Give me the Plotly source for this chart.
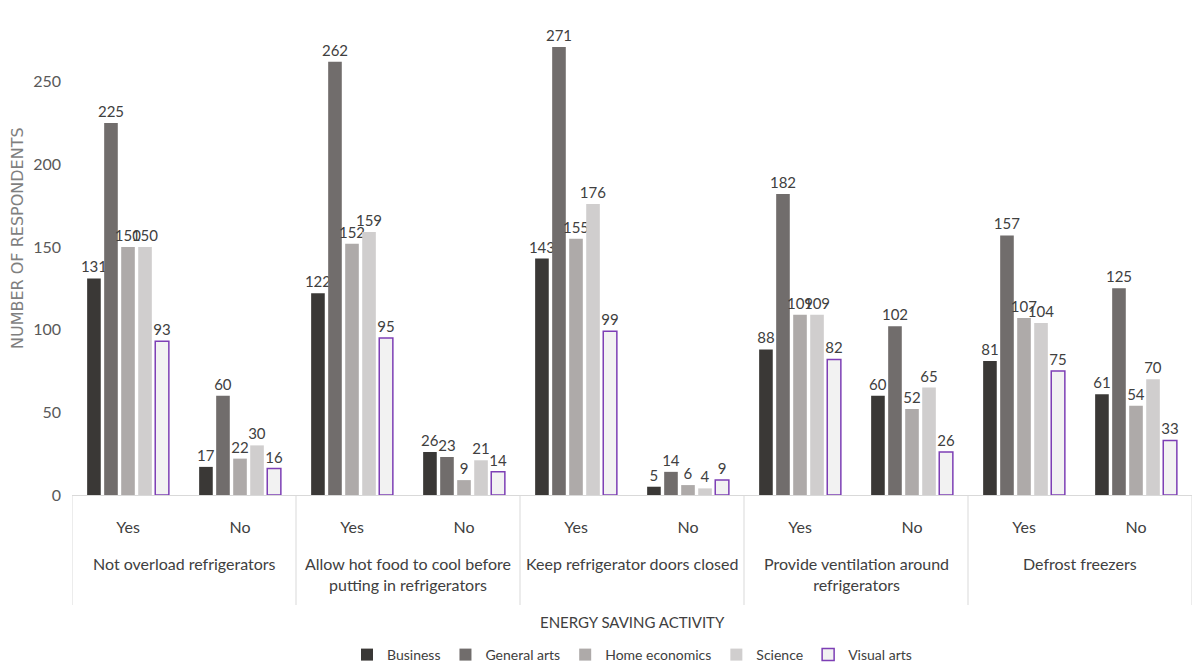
import plotly.graph_objects as go

activities = [
    "Not overload refrigerators",
    "Allow hot food to cool before<br>putting in refrigerators",
    "Keep refrigerator doors closed",
    "Provide ventilation around<br>refrigerators",
    "Defrost freezers",
]
answers = ["Yes", "No"]

business = [131, 17, 122, 26, 143, 5, 88, 60, 81, 61]
general_arts = [225, 60, 262, 23, 271, 14, 182, 102, 157, 125]
home_economics = [150, 22, 152, 9, 155, 6, 109, 52, 107, 54]
science = [150, 30, 159, 21, 176, 4, 109, 65, 104, 70]
visual_arts = [93, 16, 95, 14, 99, 9, 82, 26, 75, 33]

series = [
    ("Business", business, "#3a3836", None),
    ("General arts", general_arts, "#716d6c", None),
    ("Home economics", home_economics, "#aeaaa9", None),
    ("Science", science, "#d0cece", None),
    ("Visual arts", visual_arts, "#f2f2f2", "#7d3fb5"),
]

# one category per (activity, answer) pair; ticks show only the answer
cat_keys = [f"{a}|{ans}" for a in activities for ans in answers]
cat_ticks = [ans for _ in activities for ans in answers]

FONT = "Lato, Open Sans, sans-serif"
TXT = "#404040"
GRID = "#d9d9d9"

fig = go.Figure()
for name, vals, fill, edge in series:
    fig.add_trace(go.Bar(
        name=name,
        x=cat_keys,
        y=vals,
        text=vals,
        textposition="outside",
        constraintext="none",
        cliponaxis=False,
        textfont=dict(family=FONT, size=15, color=TXT),
        marker=dict(
            color=fill,
            line=dict(color=edge if edge else fill, width=1.5 if edge else 0),
        ),
    ))

# plot area: bottom at 495 px, height 463 px
PH = 463.0

def py(px_below):
    """paper y for a position px_below pixels under the x axis"""
    return -px_below / PH

# group labels and dividers below the answer ticks
n_ans = len(answers)
for i, act in enumerate(activities):
    fig.add_annotation(
        x=i * n_ans + (n_ans - 1) / 2, xref="x",
        y=py(57), yref="paper", yanchor="top",
        text=act, showarrow=False, align="center",
        font=dict(family=FONT, size=16, color=TXT),
    )
for i in range(len(activities) + 1):
    xd = i * n_ans - 0.5
    fig.add_shape(
        type="line", xref="x", yref="paper",
        x0=xd, x1=xd, y0=0, y1=py(110),
        line=dict(color=GRID, width=1),
    )

# axis titles
fig.add_annotation(
    x=0.5, xref="paper", y=py(127), yref="paper", yanchor="middle",
    text="ENERGY SAVING ACTIVITY", showarrow=False,
    font=dict(family=FONT, size=15, color=TXT),
)
fig.add_annotation(
    x=(18 - 72) / (1192 - 72), xref="paper", y=(495 - 238) / PH, yref="paper",
    xanchor="center", yanchor="middle",
    text="NUMBER OF RESPONDENTS", textangle=-90, showarrow=False,
    font=dict(family="DejaVu Sans, sans-serif", size=16, color="#7f7f7f"),
)

fig.update_layout(
    width=1192,
    height=671,
    barmode="group",
    bargap=0.24,
    bargroupgap=0.2,
    plot_bgcolor="white",
    paper_bgcolor="white",
    margin=dict(l=72, r=0, t=32, b=176),
    font=dict(family=FONT, size=15, color=TXT),
    showlegend=True,
    legend=dict(
        orientation="h",
        x=0.5, xanchor="center",
        y=py(160), yanchor="middle",
        font=dict(family=FONT, size=14, color=TXT),
        itemwidth=30,
        traceorder="normal",
    ),
    xaxis=dict(
        type="category",
        automargin=False,
        range=[-0.5, len(cat_keys) - 0.5],
        tickvals=cat_keys,
        ticktext=cat_ticks,
        showline=True,
        linecolor=GRID,
        linewidth=1,
        ticks="",
        ticklabelstandoff=18,
        tickfont=dict(family=FONT, size=16, color=TXT),
    ),
    yaxis=dict(
        automargin=False,
        range=[0, 280],
        tickvals=[0, 50, 100, 150, 200, 250],
        showgrid=False,
        zeroline=False,
        showline=False,
        ticks="",
        ticklabelstandoff=10,
        tickfont=dict(family=FONT, size=16, color="#595959"),
    ),
)

fig.write_html("out.html")
